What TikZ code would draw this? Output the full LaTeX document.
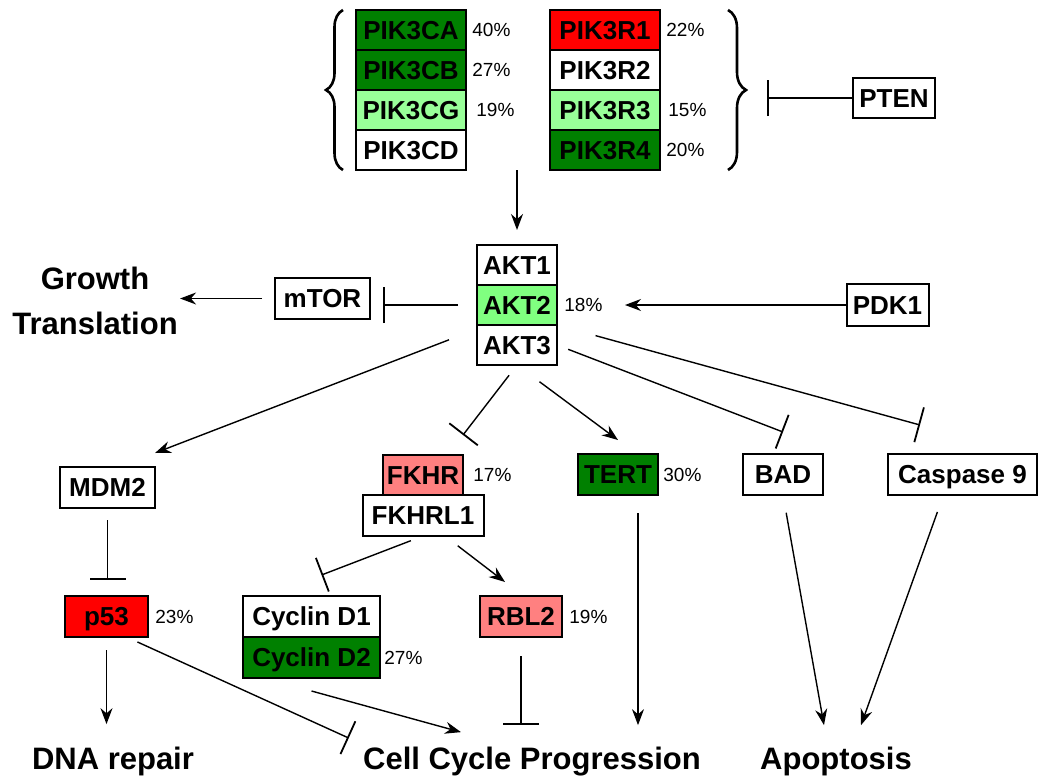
\documentclass[tikz,border=0pt]{standalone}
\usepackage{fontspec}
\setmainfont{Liberation Sans}
\usetikzlibrary{positioning,arrows.meta,decorations.pathreplacing}
\definecolor{dkgreen}{RGB}{0,128,0}
\definecolor{ltgreen}{RGB}{153,255,153}
\definecolor{akgreen}{RGB}{128,255,128}
\definecolor{pinkred}{RGB}{255,128,128}
\tikzset{
  gene/.style={draw, line width=1pt, inner sep=0pt, outer sep=0pt, minimum height=20pt, text height=9.3pt, text depth=0pt, font=\fontsize{13}{13}\selectfont\bfseries},
  pct/.style={inner sep=0pt, text height=6.8pt, text depth=0pt, font=\fontsize{9.5}{9.5}\selectfont},
  big/.style={inner sep=0pt, font=\fontsize{15.5}{22.5}\selectfont\bfseries, align=center},
  act/.style={line width=0.7pt, -{Stealth[length=8pt,width=6pt]}},
  inh/.style={line width=0.7pt, -{Bar[width=18pt,line width=0.9pt]}},
  curly/.style={line width=1.3pt, decorate, decoration={brace, amplitude=#1}}
}
\begin{document}
\begin{tikzpicture}[x=0.5pt, y=-0.5pt]
\useasboundingbox (0,0) rectangle (1050,782);
\node [gene, fill=dkgreen, minimum width=55pt] (pik3ca) at (411,30) {PIK3CA};
\node [gene, fill=dkgreen, minimum width=55pt, below=0pt of pik3ca] (pik3cb) {PIK3CB};
\node [gene, fill=ltgreen, minimum width=55pt, below=0pt of pik3cb] (pik3cg) {PIK3CG};
\node [gene, fill=white, minimum width=55pt, below=0pt of pik3cg] (pik3cd) {PIK3CD};
\node [gene, fill=red, minimum width=55pt] (pik3r1) at (605,30) {PIK3R1};
\node [gene, fill=white, minimum width=55pt, below=0pt of pik3r1] (pik3r2) {PIK3R2};
\node [gene, fill=ltgreen, minimum width=55pt, below=0pt of pik3r2] (pik3r3) {PIK3R3};
\node [gene, fill=dkgreen, minimum width=55pt, below=0pt of pik3r3] (pik3r4) {PIK3R4};
\node [pct, right=3pt of pik3ca] (p-pik3ca) {40\%};
\node [pct, right=3pt of pik3cb] (p-pik3cb) {27\%};
\node [pct, right=5pt of pik3cg] (p-pik3cg) {19\%};
\node [pct, right=3pt of pik3r1] (p-pik3r1) {22\%};
\node [pct, right=4pt of pik3r3] (p-pik3r3) {15\%};
\node [pct, right=3pt of pik3r4] (p-pik3r4) {20\%};
\draw [curly=8.5pt] ([xshift=-6.5pt]pik3cd.south west) -- ([xshift=-6.5pt]pik3ca.north west);
\draw [curly=9pt] ([xshift=34pt]pik3r1.north east) -- ([xshift=34pt]pik3r4.south east);
\node [gene, fill=white, minimum width=41pt] (pten) at (894,98) {PTEN};
\node [gene, fill=white, minimum width=40pt] (akt1) at (517,265) {AKT1};
\node [gene, fill=akgreen, minimum width=40pt, below=0pt of akt1] (akt2) {AKT2};
\node [gene, fill=white, minimum width=40pt, below=0pt of akt2] (akt3) {AKT3};
\node [pct, right=3.5pt of akt2] (p-akt2) {18\%};
\node [gene, fill=white, minimum width=47.5pt, minimum height=20.5pt] (mtor) at (322.5,298.5) {mTOR};
\node [gene, fill=white, minimum width=41pt, minimum height=21pt] (pdk1) at (887.5,305) {PDK1};
\node [big] (growth) at (95,301) {Growth\\Translation};
\node [gene, fill=white, minimum width=47.5pt, minimum height=20.5pt] (mdm2) at (107.5,487.5) {MDM2};
\node [gene, fill=pinkred, minimum width=40pt] (fkhr) at (423,475) {FKHR};
\node [gene, fill=white, minimum width=60.5pt, minimum height=20.5pt, below=0pt of fkhr] (fkhrl1) {FKHRL1};
\node [pct, right=5pt of fkhr] (p-fkhr) {17\%};
\node [gene, fill=dkgreen, minimum width=40pt, minimum height=20.5pt] (tert) at (618,474.5) {TERT};
\node [pct, right=2.5pt of tert] (p-tert) {30\%};
\node [gene, fill=white, minimum width=40pt, minimum height=20.5pt] (bad) at (783,474.5) {BAD};
\node [gene, fill=white, minimum width=74.5pt, minimum height=20.5pt] (caspase9) at (962.5,474.5) {Caspase 9};
\node [gene, fill=red, minimum width=41.5pt, minimum height=20.5pt] (p53) at (106.5,616.5) {p53};
\node [pct, right=3.5pt of p53] (p-p53) {23\%};
\node [gene, fill=white, minimum width=68.5pt, minimum height=20.5pt] (cycd1) at (311.5,616.5) {Cyclin D1};
\node [gene, fill=dkgreen, minimum width=68.5pt, minimum height=20.5pt, below=0pt of cycd1] (cycd2) {Cyclin D2};
\node [pct, right=2pt of cycd2] (p-cycd2) {27\%};
\node [gene, fill=pinkred, minimum width=41pt, minimum height=20.5pt] (rbl2) at (521,616.5) {RBL2};
\node [pct, right=3.5pt of rbl2] (p-rbl2) {19\%};
\node [big, anchor=base] (dna) at (113,769) {DNA repair};
\node [big, anchor=base] (ccp) at (532,769) {Cell Cycle Progression};
\node [big, anchor=base] (apop) at (836,769) {Apoptosis};
\draw [act, shorten >=7.5pt] (akt1 |- pik3cd.south) -- (akt1);
\draw [inh, shorten >=53.5pt] (pten) -- (pten -| pik3r2.east);
\draw [act, shorten >=34pt] (pdk1) -- (akt2);
\draw [inh, shorten <=9.5pt, shorten >=6.5pt] (akt2.west) -- (akt2.west -| mtor.east);
\draw [act, shorten <=6.5pt, shorten >=1pt] (mtor.west) -- (mtor.west -| growth.east);
\draw [act, shorten <=15pt] ([yshift=8pt]akt3.west) -- ([yshift=7pt]mdm2.north east);
\draw [inh, shorten <=6.5pt] (akt3.south) -- ([yshift=10pt]fkhr.north east);
\draw [act, shorten <=14pt] (akt3.south) -- ([yshift=7pt]tert.north);
\draw [inh, shorten <=6pt] (akt3.east) -- ([yshift=11pt]bad.north);
\draw [inh, shorten <=20pt] (akt3.north east) -- ([xshift=16pt,yshift=14.5pt]caspase9.north west);
\draw [inh, shorten <=6.5pt] (fkhrl1.south) -- ([xshift=5pt,yshift=10.5pt]cycd1.north);
\draw [act, shorten <=8pt] ([xshift=11pt]fkhrl1.south) -- ([xshift=-8pt,yshift=7pt]rbl2.north);
\draw [inh, shorten <=6pt, shorten >=8pt] (mdm2.south) -- (mdm2.south |- p53.north);
\draw [act, shorten <=6.5pt, shorten >=11pt] (p53.south) -- (p53.south |- dna.north);
\draw [inh, shorten <=6pt] ([xshift=10pt]p53.south) -- ([xshift=-7pt,yshift=11.5pt]ccp.west);
\draw [act] ([yshift=-6.5pt]cycd2.south) -- ([xshift=-35.5pt,yshift=7pt]ccp.north);
\draw [inh, shorten <=9.5pt, shorten >=10.5pt] (rbl2.south) -- (rbl2.south |- ccp.north);
\draw [act, shorten <=9pt, shorten >=10.5pt] ([xshift=10pt]tert.south) -- ([xshift=10pt]tert.south |- ccp.north);
\draw [act, shorten <=9pt] (bad.south) -- ([xshift=-6pt,yshift=10.5pt]apop.north);
\draw [act, shorten <=9pt] ([xshift=-9.5pt]caspase9.south) -- ([xshift=12.5pt,yshift=10.5pt]apop.north);
\end{tikzpicture}
\end{document}
